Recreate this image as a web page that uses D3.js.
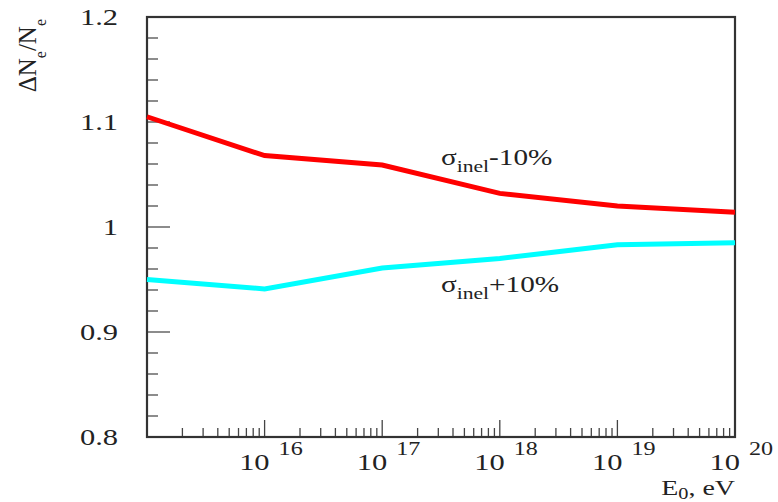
<!DOCTYPE html>
<html>
<head>
<meta charset="utf-8">
<script src="https://cdn.jsdelivr.net/npm/d3@7"></script>
<style>
  html, body { margin: 0; padding: 0; background: #fff; }
  text { font-family: "Liberation Serif", "DejaVu Serif", "Times New Roman", serif; fill: #222; }
</style>
</head>
<body>
<svg id="chart" width="778" height="502"></svg>
<script>
// Relative change of electron number vs primary energy, sigma_inel +/- 10%
const energies = [1e15, 1e16, 1e17, 1e18, 1e19, 1e20];
const minus10 = [1.105, 1.068, 1.059, 1.032, 1.020, 1.014];
const plus10 = [0.950, 0.941, 0.961, 0.970, 0.983, 0.985];
const yTicks = [0.8, 0.9, 1, 1.1, 1.2];
const decades = [16, 17, 18, 19, 20];

const L = 147, R = 735, T = 17, B = 437;
const SX = 1.27; // the original picture is stretched sideways

const svg = d3.select("#chart");
const x = d3.scaleLog().domain([1e15, 1e20]).range([L, R]);
const y = d3.scaleLinear().domain([0.8, 1.2]).range([B, T]);

// text placed at (px,py), widened horizontally
function wideText(parent, px, py, size, anchor) {
  return parent.append("g")
    .attr("transform", `translate(${px},${py}) scale(${SX},1)`)
    .append("text")
    .attr("text-anchor", anchor || "start")
    .style("font-size", size + "px");
}

// y ticks: major every 0.1, minor every 0.02
const yMinor = d3.range(0, 21).map(i => 0.8 + i * 0.02);
svg.append("g").selectAll("line")
  .data(yMinor)
  .enter().append("line")
  .attr("x1", L).attr("x2", (d, i) => L + (i % 5 === 0 ? 23 : 11))
  .attr("y1", d => y(d)).attr("y2", d => y(d))
  .attr("stroke", "#666").attr("stroke-width", 1.5);

// x ticks: decades + 2..9 minors
const xMinor = [];
for (let e = 15; e < 20; e++) for (let m = 2; m <= 9; m++) xMinor.push(m * Math.pow(10, e));
svg.append("g").selectAll("line")
  .data(xMinor)
  .enter().append("line")
  .attr("x1", d => x(d)).attr("x2", d => x(d))
  .attr("y1", B).attr("y2", B - 9)
  .attr("stroke", "#444").attr("stroke-width", 1.3);
svg.append("g").selectAll("line")
  .data(decades)
  .enter().append("line")
  .attr("x1", d => x(Math.pow(10, d))).attr("x2", d => x(Math.pow(10, d)))
  .attr("y1", B).attr("y2", B - 17)
  .attr("stroke", "#444").attr("stroke-width", 1.3);

// frame
svg.append("rect")
  .attr("x", L).attr("y", T).attr("width", R - L).attr("height", B - T)
  .attr("fill", "none").attr("stroke", "#333").attr("stroke-width", 2.2);

// y tick labels
const yl = svg.append("g");
yTicks.forEach(v => {
  wideText(yl, 118, y(v) + 8, 24, "end").text(v === 1 ? "1" : d3.format(".1f")(v));
});

// x tick labels: 10^n
const xl = svg.append("g");
decades.forEach(d => {
  const px = x(Math.pow(10, d));
  wideText(xl, px + 5, 470, 24, "end").text("10");
  wideText(xl, px + 14, 455, 19).text(d);
});

// curves
const line = d3.line().x((d, i) => x(energies[i])).y(d => y(d));
svg.append("path").datum(minus10)
  .attr("d", line).attr("fill", "none")
  .attr("stroke", "#ff0000").attr("stroke-width", 5);
svg.append("path").datum(plus10)
  .attr("d", line).attr("fill", "none")
  .attr("stroke", "#00ffff").attr("stroke-width", 5);

// annotations
function sigmaLabel(ty, rest) {
  const t = wideText(svg, 441, ty, 23);
  t.append("tspan").text("σ");
  t.append("tspan").attr("dy", 7).style("font-size", "17px").text("inel");
  t.append("tspan").attr("dy", -7).text(rest);
}
sigmaLabel(165, "-10%");
sigmaLabel(292, "+10%");

// axis titles
const xt = wideText(svg, 735, 495, 22, "end");
xt.append("tspan").text("E");
xt.append("tspan").attr("dy", 4).style("font-size", "16px").text("0");
xt.append("tspan").attr("dy", -4).text(", eV");

const yt = svg.append("text")
  .attr("transform", "translate(36,19) rotate(-90)")
  .attr("text-anchor", "end").style("font-size", "25px");
yt.append("tspan").text("ΔN");
yt.append("tspan").attr("dy", 10).style("font-size", "16px").text("e");
yt.append("tspan").attr("dy", -10).text("/N");
yt.append("tspan").attr("dy", 10).style("font-size", "16px").text("e");
</script>
</body>
</html>
